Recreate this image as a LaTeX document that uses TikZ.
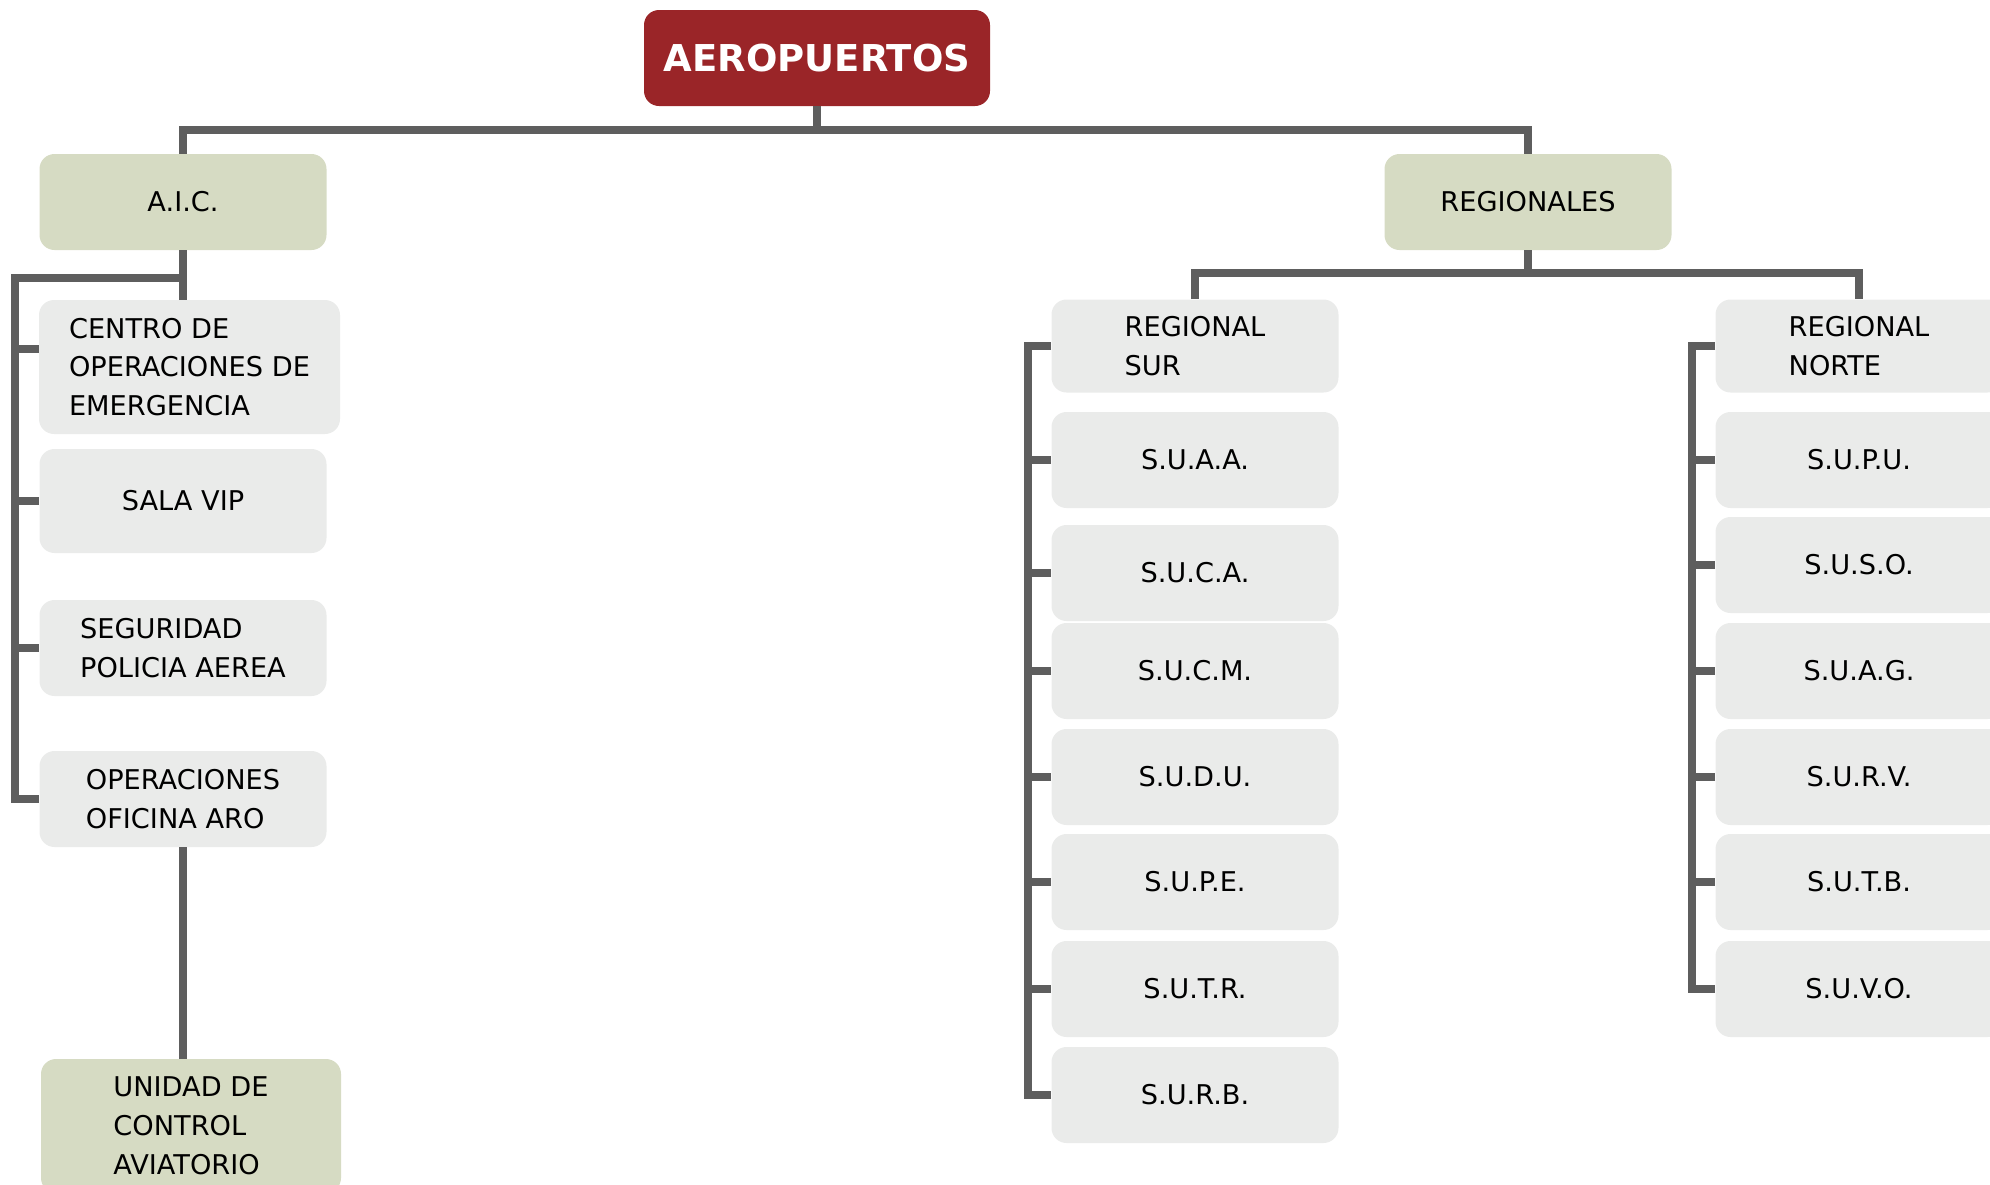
\documentclass[tikz,border=0pt]{standalone}
\usepackage{fontspec}
\setmainfont{DejaVu Sans}

\definecolor{headred}{RGB}{154,37,40}
\definecolor{sage}{RGB}{214,219,195}
\definecolor{paleg}{RGB}{234,235,234}
\definecolor{linegray}{RGB}{94,94,94}

\tikzstyle{box}=[rectangle, rounded corners=7.5pt, inner sep=0pt,
                 minimum width=143.5pt, minimum height=48pt, align=left,
                 fill=paleg, font=\fontsize{13.6}{19.4}\selectfont]
\tikzstyle{group}=[box, fill=sage]
\tikzstyle{link}=[line width=3.75pt, draw=linegray, line join=miter]

\begin{document}
\begin{tikzpicture}[x=0.5pt, y=-0.5pt]
  \useasboundingbox (0, 0) rectangle (1990, 1184);

  \node[box, fill=headred, text=white, minimum width=173pt,
        font=\bfseries\fontsize{18.5}{22}\selectfont] (title) at (817, 58) {AEROPUERTOS};

  \node[group] (aic) at (183, 202) {A.I.C.};
  \node[group] (reg) at (1528, 202) {REGIONALES};

  % left branch
  \node[box, minimum width=150.5pt, minimum height=67pt] (centro) at (189.5, 367)
       {CENTRO DE\\OPERACIONES DE\\EMERGENCIA};
  \node[box, minimum height=52pt] (sala) at (183, 501) {SALA VIP};
  \node[box] (seg) at (183, 648) {SEGURIDAD\\POLICIA AEREA};
  \node[box] (oper) at (183, 799) {OPERACIONES\\OFICINA ARO};
  \node[group, minimum width=150pt, minimum height=67pt] (unidad) at (191, 1126)
       {UNIDAD DE\\CONTROL\\AVIATORIO};

  % regional sur
  \node[box, minimum height=46.5pt] (regsur) at (1195, 346) {REGIONAL\\SUR};
  \node[box] (suaa) at (1195, 460) {S.U.A.A.};
  \node[box] (suca) at (1195, 573) {S.U.C.A.};
  \node[box] (sucm) at (1195, 671) {S.U.C.M.};
  \node[box] (sudu) at (1195, 777) {S.U.D.U.};
  \node[box] (supe) at (1195, 882) {S.U.P.E.};
  \node[box] (sutr) at (1195, 989) {S.U.T.R.};
  \node[box] (surb) at (1195, 1095) {S.U.R.B.};

  % regional norte
  \node[box, minimum height=46.5pt] (regnor) at (1859, 346) {REGIONAL\\NORTE};
  \node[box] (supu) at (1859, 460) {S.U.P.U.};
  \node[box] (suso) at (1859, 565) {S.U.S.O.};
  \node[box] (suag) at (1859, 671) {S.U.A.G.};
  \node[box] (surv) at (1859, 777) {S.U.R.V.};
  \node[box] (sutb) at (1859, 882) {S.U.T.B.};
  \node[box] (suvo) at (1859, 989) {S.U.V.O.};

  \coordinate (hub) at (817, 130);
  \coordinate (rhub) at (1528, 273);
  \coordinate (lbar) at (15, 278);
  \coordinate (sbar) at (1028, 0);
  \coordinate (nbar) at (1692, 0);
  \coordinate (ctick) at ([yshift=9pt]centro.west);

  \draw[link] (title.south) -- (hub);
  \draw[link] (aic.north) |- (hub) -| (reg.north);

  \draw[link] (aic.south) -- (aic.south |- centro.north);
  \draw[link] (aic.south |- lbar) -- (lbar) |- (oper.west);
  \draw[link] (lbar |- ctick) -- (ctick);
  \foreach \n in {sala, seg}
    \draw[link] (lbar |- \n.west) -- (\n.west);
  \draw[link] (oper.south) -- (oper.south |- unidad.north);

  \draw[link] (reg.south) -- (rhub);
  \draw[link] (regsur.north) |- (rhub) -| (regnor.north);

  \draw[link] (regsur.west) -| (sbar |- surb.west) -- (surb.west);
  \foreach \n in {suaa, suca, sucm, sudu, supe, sutr}
    \draw[link] (sbar |- \n.west) -- (\n.west);

  \draw[link] (regnor.west) -| (nbar |- suvo.west) -- (suvo.west);
  \foreach \n in {supu, suso, suag, surv, sutb}
    \draw[link] (nbar |- \n.west) -- (\n.west);
\end{tikzpicture}
\end{document}
